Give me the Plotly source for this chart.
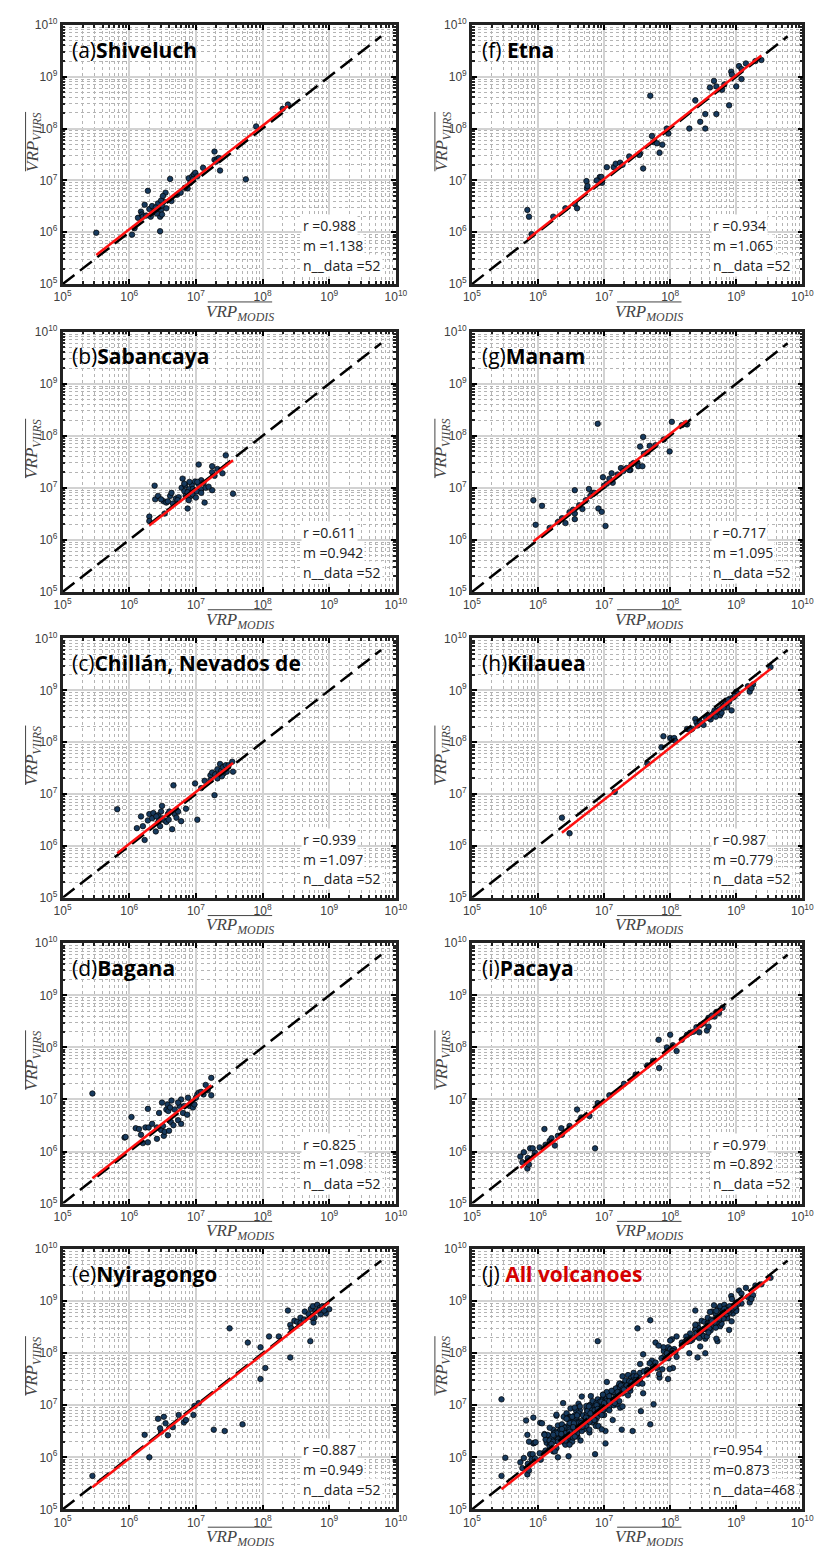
import plotly.graph_objects as go

# ---------------- data (MODIS, VIIRS) pairs ----------------
shiveluch = [(3.2e5, 9.8e5), (1.1e6, 9.0e5), (1.2e6, 1.2e6), (1.35e6, 1.9e6), (1.5e6, 2.5e6), (1.55e6, 2.2e6),
             (1.7e6, 3.4e6), (1.9e6, 6.3e6), (1.6e6, 2.0e6), (2.9e6, 1.05e6), (2.9e6, 2.0e6), (3.0e6, 2.7e6),
             (3.1e6, 3.3e6), (3.3e6, 3.9e6), (4.1e6, 1.07e7), (3.5e6, 5.8e6), (2.7e6, 3.6e6), (2.4e6, 2.6e6),
             (2.0e6, 2.8e6), (2.2e6, 3.2e6), (2.5e6, 3.0e6), (4.3e6, 4.0e6), (5.9e6, 5.8e6), (7.5e6, 7.0e6),
             (7.8e6, 1.1e7), (8.2e6, 9.0e6), (8.8e6, 1.2e7), (9.3e6, 1.3e7), (9.8e6, 1.4e7), (1.05e7, 1.2e7),
             (1.28e7, 1.75e7), (1.9e7, 3.6e7), (1.9e7, 2.5e7), (2.1e7, 2.6e7), (2.3e7, 1.55e7), (2.2e7, 2.7e7),
             (5.6e7, 1.05e7), (8.0e7, 1.1e8), (2.4e8, 2.9e8), (2.0e8, 2.4e8), (3.0e6, 4.1e6), (3.2e6, 5.0e6),
             (2.3e6, 2.4e6), (1.8e6, 2.1e6), (2.6e6, 2.3e6), (3.6e6, 2.9e6), (3.1e6, 2.2e6), (2.1e6, 2.0e6),
             (5.2e6, 5.3e6), (6.8e6, 7.2e6), (9.0e6, 1.05e7), (2.0e7, 2.3e7)]

sabancaya = [(2.0e6, 2.8e6), (2.0e6, 2.3e6), (2.4e6, 1.1e7), (2.45e6, 6.0e6), (2.7e6, 7.0e6), (3.3e6, 5.5e6),
             (3.4e6, 3.2e6), (3.6e6, 5.2e6), (3.8e6, 5.5e6), (4.1e6, 7.0e6), (4.3e6, 8.0e6), (4.5e6, 5.0e6),
             (5.0e6, 6.2e6), (5.5e6, 6.6e6), (6.1e6, 1.0e7), (6.3e6, 1.5e7), (6.7e6, 8.6e6), (7.0e6, 7.0e6),
             (6.9e6, 1.12e7), (7.5e6, 4.0e6), (7.9e6, 9.4e6), (8.4e6, 7.0e6), (8.7e6, 1.15e7), (8.9e6, 7.5e6),
             (9.7e6, 1.32e7), (1.0e7, 6.5e6), (1.1e7, 2.8e7), (1.1e7, 1.17e7), (1.2e7, 9.4e6), (1.2e7, 1.4e7),
             (1.3e7, 1.25e7), (1.35e7, 5.2e6), (1.4e7, 1.0e7), (1.75e7, 2.0e7), (1.75e7, 2.6e7), (1.75e7, 9.0e6),
             (2.1e7, 2.3e7), (2.5e7, 1.9e7), (2.8e7, 4.2e7), (3.6e7, 7.7e6), (9.0e6, 9.5e6), (1.03e7, 8.5e6),
             (8.0e6, 1.3e7), (6.7e6, 1.2e7), (7.5e6, 8.2e6), (1.2e7, 8.0e6), (1.55e7, 1.05e7), (1.9e7, 1.7e7),
             (5.3e6, 5.8e6), (3.0e6, 6.0e6), (7.8e6, 5.8e6), (1.05e7, 1.3e7)]

chillan = [(6.6e5, 5.1e6), (1.3e6, 2.2e6), (1.5e6, 3.7e6), (1.6e6, 2.4e6), (1.7e6, 1.3e6), (1.9e6, 3.1e6),
           (2.0e6, 4.1e6), (2.2e6, 3.4e6), (2.3e6, 4.3e6), (2.5e6, 1.9e6), (2.7e6, 2.8e6), (2.7e6, 3.9e6),
           (2.9e6, 2.4e6), (3.0e6, 4.6e6), (3.1e6, 5.9e6), (3.1e6, 3.4e6), (3.4e6, 3.1e6), (3.6e6, 2.9e6),
           (3.8e6, 4.1e6), (4.0e6, 4.6e6), (4.4e6, 2.1e6), (4.6e6, 1.47e7), (4.8e6, 4.1e6), (5.4e6, 4.6e6),
           (6.0e6, 3.0e6), (7.1e6, 5.2e6), (9.7e6, 1.6e7), (1.05e7, 3.2e6), (1.35e7, 1.8e7), (1.2e7, 1.3e7),
           (1.65e7, 2.3e7), (1.75e7, 2.6e7), (1.95e7, 2.4e7), (2.1e7, 3.0e7), (2.2e7, 2.3e7), (2.3e7, 3.8e7),
           (2.4e7, 2.8e7), (2.55e7, 3.3e7), (2.6e7, 2.5e7), (2.8e7, 3.6e7), (2.9e7, 2.7e7), (3.1e7, 3.6e7),
           (3.6e7, 2.7e7), (3.5e7, 4.2e7), (1.9e7, 9.5e6), (1.65e7, 1.85e7), (2.1e7, 2.0e7), (2.45e7, 2.2e7),
           (3.9e6, 3.2e6), (2.8e6, 3.1e6), (2.55e6, 3.7e6), (5.1e6, 3.5e6)]

bagana = [(2.8e5, 1.3e7), (8.5e5, 1.85e6), (8.8e5, 1.9e6), (1.08e6, 4.6e6), (1.25e6, 2.8e6), (1.4e6, 2.7e6),
          (1.5e6, 2.1e6), (1.6e6, 1.45e6), (1.75e6, 2.9e6), (1.9e6, 6.6e6), (1.9e6, 1.5e6), (1.95e6, 2.9e6),
          (2.6e6, 1.75e6), (2.8e6, 5.5e6), (3.0e6, 2.6e6), (3.1e6, 8.7e6), (3.2e6, 3.1e6), (3.3e6, 2.0e6),
          (3.4e6, 2.4e6), (3.6e6, 6.4e6), (3.75e6, 8.0e6), (3.85e6, 6.0e6), (3.95e6, 2.5e6), (4.1e6, 7.0e6),
          (4.2e6, 3.7e6), (4.6e6, 3.2e6), (4.8e6, 6.4e6), (5.4e6, 4.0e6), (5.7e6, 7.5e6), (6.0e6, 1.0e7),
          (6.0e6, 3.4e6), (6.4e6, 5.5e6), (6.7e6, 7.5e6), (7.4e6, 5.1e6), (7.6e6, 1.08e7), (8.0e6, 7.5e6),
          (8.5e6, 8.7e6), (9.0e6, 7.0e6), (9.5e6, 8.0e6), (1.0e7, 1.08e7), (1.05e7, 1.25e7), (1.1e7, 1.35e7),
          (1.2e7, 1.4e7), (1.3e7, 1.25e7), (1.4e7, 1.9e7), (1.5e7, 1.5e7), (1.7e7, 2.6e7), (1.7e7, 1.2e7),
          (5.4e6, 8.7e6), (4.3e6, 9.5e6), (2.6e6, 2.9e6), (2.2e6, 3.4e6)]

nyiragongo = [(2.8e5, 4.4e5), (1.7e6, 2.7e6), (2.0e6, 1.0e6), (2.7e6, 5.5e6), (3.0e6, 3.1e6), (3.3e6, 6.0e6),
              (3.5e6, 4.5e6), (3.8e6, 2.65e6), (4.5e6, 3.8e6), (5.5e6, 6.5e6), (6.6e6, 4.7e6), (7.1e6, 5.2e6),
              (9.2e6, 6.5e6), (9.5e6, 9.7e6), (1.1e7, 1.1e7), (1.85e7, 3.4e6), (2.7e7, 3.2e6), (3.2e7, 3.0e8),
              (5.0e7, 4.3e6), (6.0e7, 1.6e8), (9.3e7, 1.3e8), (9.3e7, 3.2e7), (1.1e8, 5.2e7), (1.25e8, 2.1e8),
              (1.75e8, 2.1e8), (2.4e8, 6.6e8), (2.6e8, 8.3e7), (2.6e8, 3.5e8), (3.0e8, 4.2e8), (3.3e8, 4.0e8),
              (3.7e8, 4.8e8), (4.3e8, 6.3e8), (5.2e8, 1.7e8), (5.3e8, 7.1e8), (5.7e8, 8.0e8), (5.8e8, 3.9e8),
              (6.0e8, 4.8e8), (6.6e8, 8.5e8), (7.2e8, 7.4e8), (7.9e8, 8.0e8), (8.9e8, 5.8e8), (1.0e9, 7.0e8),
              (3.7e8, 3.8e8), (2.7e8, 3.0e8), (6.2e8, 6.4e8), (4.9e8, 5.6e8), (7.4e8, 5.6e8), (8.4e8, 6.6e8),
              (5.5e8, 4.8e8), (4.2e8, 4.4e8), (7.0e8, 6.7e8), (2.9e6, 3.6e6)]

etna = [(6.9e5, 2.7e6), (7.3e5, 2.0e6), (8.0e5, 9.2e5), (1.7e6, 2.0e6), (2.6e6, 2.9e6), (3.6e6, 3.5e6),
        (3.9e6, 2.9e6), (5.4e6, 9.7e6), (5.5e6, 7.0e6), (5.6e6, 7.8e6), (8.6e6, 1.16e7), (9.1e6, 1.17e7),
        (9.3e6, 9.0e6), (1.1e7, 1.8e7), (1.4e7, 1.8e7), (1.5e7, 2.1e7), (1.75e7, 2.2e7), (1.9e7, 2.0e7),
        (2.4e7, 2.9e7), (3.5e7, 3.3e7), (3.9e7, 1.7e7), (5.0e7, 4.3e8), (5.3e7, 7.2e7), (5.6e7, 5.5e7),
        (6.3e7, 5.2e7), (6.9e7, 3.4e7), (7.6e7, 4.9e7), (8.9e7, 1.0e8), (9.4e7, 8.0e7), (1.95e8, 1.0e8),
        (2.4e8, 3.5e8), (2.85e8, 1.35e8), (3.4e8, 1.9e8), (3.4e8, 1.0e8), (4.0e8, 6.2e8), (4.6e8, 8.3e8),
        (5.0e8, 6.5e8), (5.0e8, 1.9e8), (6.1e8, 5.6e8), (6.6e8, 7.1e8), (7.8e8, 2.8e8), (8.4e8, 1.25e9),
        (8.6e8, 1.1e9), (1.0e9, 6.5e8), (1.1e9, 1.6e9), (1.2e9, 1.4e9), (1.2e9, 9.0e8), (1.4e9, 1.8e9),
        (1.95e9, 2.0e9), (2.4e9, 2.1e9), (7.7e6, 1.0e7), (3.4e7, 3.1e7)]

manam = [(8.5e5, 5.8e6), (9.2e5, 1.95e6), (1.15e6, 4.5e6), (2.3e6, 2.6e6), (2.6e6, 2.1e6), (3.6e6, 3.2e6),
         (3.6e6, 2.5e6), (3.6e6, 9.0e6), (4.7e6, 3.9e6), (5.9e6, 9.5e6), (6.6e6, 8.0e6), (8.0e6, 1.7e8),
         (8.2e6, 4.0e6), (9.2e6, 3.45e6), (9.6e6, 1.6e7), (1.05e7, 1.85e6), (1.3e7, 1.9e7), (1.35e7, 1.25e7),
         (1.8e7, 2.4e7), (1.95e7, 2.1e7), (2.5e7, 2.2e7), (3.2e7, 3.0e7), (3.3e7, 2.6e7), (3.5e7, 6.2e7),
         (3.8e7, 2.6e7), (3.9e7, 9.5e7), (4.9e7, 6.4e7), (9.8e7, 5.0e7), (1.06e8, 1.85e8), (1.8e8, 1.65e8),
         (1.5e6, 1.7e6), (2.0e6, 2.2e6), (4.2e6, 4.6e6), (5.3e6, 5.8e6), (7.2e6, 8.0e6), (1.1e7, 1.2e7),
         (1.6e7, 1.8e7), (2.2e7, 2.4e7), (2.8e7, 3.0e7), (4.5e7, 4.8e7), (6.0e7, 6.6e7), (8.0e7, 8.5e7),
         (1.5e8, 1.6e8), (3.0e6, 3.4e6), (1.2e7, 1.5e7), (2.6e7, 2.8e7), (6.2e6, 7.0e6), (4.0e7, 4.5e7),
         (1.0e7, 1.1e7), (3.4e6, 3.8e6), (1.7e8, 1.7e8), (2.4e7, 2.2e7)]

kilauea = [(2.3e6, 3.5e6), (3.0e6, 1.75e6), (1.45e7, 1.1e7), (4.5e7, 3.9e7), (7.4e7, 8.0e7), (7.9e7, 1.3e8),
           (1.0e8, 1.2e8), (1.08e8, 1.13e8), (1.15e8, 1.2e8), (1.8e8, 1.8e8), (2.15e8, 1.8e8), (2.4e8, 2.8e8),
           (2.5e8, 2.4e8), (2.6e8, 2.1e8), (3.0e8, 2.3e8), (3.2e8, 2.15e8), (3.8e8, 3.2e8), (4.1e8, 2.75e8),
           (4.6e8, 3.7e8), (4.7e8, 4.1e8), (5.1e8, 3.45e8), (5.3e8, 3.7e8), (5.7e8, 3.3e8), (6.0e8, 3.7e8),
           (6.2e8, 4.9e8), (6.7e8, 5.3e8), (7.3e8, 4.7e8), (7.8e8, 6.0e8), (8.0e8, 6.9e8), (8.5e8, 4.1e8),
           (1.0e9, 9.4e8), (1.5e9, 1.2e9), (1.6e9, 9.4e8), (1.8e9, 1.3e9), (3.3e9, 2.8e9), (3.5e8, 2.9e8),
           (4.3e8, 3.4e8), (5.5e8, 4.3e8), (6.5e8, 5.0e8), (7.0e8, 5.6e8), (9.0e8, 7.3e8), (1.05e9, 8.7e8),
           (1.2e8, 1.05e8), (2.8e8, 2.5e8), (3.9e8, 3.0e8), (5.0e8, 3.9e8), (6.4e8, 4.6e8), (1.7e9, 1.1e9),
           (2.0e8, 1.7e8), (4.9e8, 3.1e8), (7.5e8, 6.5e8), (9.5e8, 7.8e8)]

pacaya = [(5.4e5, 8.0e5), (6.1e5, 9.7e5), (6.9e5, 4.7e5), (7.3e5, 5.6e5), (7.6e5, 1.15e6), (8.3e5, 1.15e6),
          (1.06e6, 1.2e6), (1.25e6, 2.7e6), (1.5e6, 1.6e6), (1.8e6, 1.3e6), (2.25e6, 2.8e6), (2.3e6, 2.1e6),
          (3.9e6, 6.4e6), (6.0e6, 4.8e6), (7.3e6, 1.15e6), (6.7e7, 1.4e8), (6.8e7, 4.0e7), (8.9e7, 1.0e8),
          (1.0e8, 1.75e8), (1.25e8, 8.5e7), (1.8e8, 1.75e8), (2.25e8, 2.0e8), (2.5e8, 2.45e8), (2.75e8, 1.95e8),
          (3.2e8, 2.9e8), (3.6e8, 2.1e8), (3.8e8, 2.5e8), (3.8e8, 3.7e8), (4.2e8, 3.9e8), (4.7e8, 3.9e8),
          (5.0e8, 4.8e8), (6.2e8, 5.8e8), (5.8e5, 6.2e5), (9.0e5, 9.5e5), (1.3e6, 1.35e6), (2.0e6, 2.0e6),
          (3.0e6, 3.1e6), (4.5e6, 4.5e6), (8.0e6, 8.5e6), (1.2e7, 1.2e7), (2.0e7, 2.0e7), (3.0e7, 3.0e7),
          (4.5e7, 4.5e7), (5.5e7, 5.5e7), (1.5e8, 1.4e8), (2.0e8, 1.9e8), (2.9e8, 2.7e8), (4.3e8, 4.1e8),
          (5.5e8, 4.6e8), (1.6e6, 1.8e6), (7.0e5, 7.5e5), (1.1e8, 1.1e8)]

all_volcanoes = shiveluch + sabancaya + chillan + bagana + nyiragongo + etna + manam + kilauea + pacaya

labels = ["(a)", "(b)", "(c)", "(d)", "(e)", "(f) ", "(g)", "(h)", "(i)", "(j) "]
names = ["Shiveluch", "Sabancaya", "Chillán, Nevados de", "Bagana", "Nyiragongo",
         "Etna", "Manam", "Kilauea", "Pacaya", "All volcanoes"]
datasets = [shiveluch, sabancaya, chillan, bagana, nyiragongo, etna, manam, kilauea, pacaya, all_volcanoes]
r_vals = [0.988, 0.611, 0.939, 0.825, 0.887, 0.934, 0.717, 0.987, 0.979, 0.954]
m_vals = [1.138, 0.942, 1.097, 1.098, 0.949, 1.065, 1.095, 0.779, 0.892, 0.873]
n_vals = [52, 52, 52, 52, 52, 52, 52, 52, 52, 468]
identity_span = [1e5, 6e9]

# ---------------- layout ----------------
W, H = 827, 1553
col_px = [(55, 397), (475, 814)]
row_px = [(16, 278), (326, 589), (636, 898), (944, 1207), (1253, 1516)]

major = [10 ** k for k in range(5, 11)]
major_text = [f"10<sup>{k}</sup>" for k in range(5, 11)]
minor = [m * 10 ** k for k in range(5, 10) for m in range(2, 10)]

fig = go.Figure()
annotations = []
shapes = []


def px_x(v):
    return v / W


def px_y(v):
    return 1 - v / H


for i in range(10):
    col, row = i // 5, i % 5
    k = i + 1
    xa, ya = f"x{k}", f"y{k}"
    x0, x1 = col_px[col]
    y0, y1 = row_px[row]
    pts = datasets[i]
    xs = [p[0] for p in pts]
    ys = [p[1] for p in pts]

    fig.add_trace(go.Scatter(x=xs, y=ys, mode="markers", xaxis=xa, yaxis=ya, showlegend=False,
                             marker=dict(size=5.5, color="#173a5e", line=dict(color="black", width=0.7))))
    fig.add_trace(go.Scatter(x=identity_span, y=identity_span, mode="lines", xaxis=xa, yaxis=ya,
                             showlegend=False, line=dict(color="black", width=2.5, dash="15px,7px")))
    xmin, xmax = min(xs), max(xs)
    fig.add_trace(go.Scatter(x=[xmin, xmax], y=[m_vals[i] * xmin, m_vals[i] * xmax], mode="lines",
                             xaxis=xa, yaxis=ya, showlegend=False, line=dict(color="#ff1010", width=2.5)))

    ax = dict(type="log", range=[5, 10], tickvals=major, ticktext=major_text, ticks="inside", ticklen=5,
              tickwidth=1.5, tickcolor="black", showline=True, linecolor="#222", linewidth=2.5,
              mirror="allticks", showgrid=True, gridcolor="#d2d2d2", gridwidth=1.5, zeroline=False,
              tickfont=dict(family="Liberation Sans", size=12, color="#404040"),
              minor=dict(tickvals=minor, ticks="inside", ticklen=3, tickcolor="#222", showgrid=True,
                         gridcolor="#b4b4b4", griddash="dot", gridwidth=1))
    fig.update_layout(**{
        f"xaxis{k}": dict(ax, domain=[px_x(x0), px_x(x1)], anchor=ya),
        f"yaxis{k}": dict(ax, domain=[px_y(y1), px_y(y0)], anchor=xa),
    })

    # panel title
    if i == 9:
        ttl = f"{labels[i]}<span style='color:#d40000'><b>{names[i]}</b></span>"
        stats = [f"r={r_vals[i]:.3f}", f"m={m_vals[i]:.3f}", f"n__data={n_vals[i]}"]
    else:
        ttl = f"{labels[i]}<b>{names[i]}</b>"
        stats = [f"r ={r_vals[i]:.3f}", f"m ={m_vals[i]:.3f}", f"n__data ={n_vals[i]}"]
    annotations.append(dict(text=ttl, x=px_x(x0 + 8), y=px_y(y0 + 25), xref="paper", yref="paper",
                            xanchor="left", yanchor="middle", showarrow=False,
                            font=dict(family="Open Sans", size=21, color="black")))
    for j, s in enumerate(stats):
        annotations.append(dict(text=s, x=px_x(x0 + 245), y=px_y(y0 + 203 + 20 * j), xref="paper",
                                yref="paper", xanchor="left", yanchor="middle", showarrow=False,
                                bgcolor="white", borderpad=1,
                                font=dict(family="Open Sans", size=14, color="#222")))

    # axis titles with overlines
    cx = x0 + 182
    cy_x = y1 + 29
    annotations.append(dict(text="<i>VRP<sub>MODIS</sub></i>", x=px_x(cx), y=px_y(cy_x), xref="paper",
                            yref="paper", xanchor="center", yanchor="middle", showarrow=False,
                            font=dict(family="Liberation Serif", size=17, color="#444")))
    shapes.append(dict(type="line", xref="paper", yref="paper", x0=px_x(cx - 33), x1=px_x(cx + 33),
                       y0=px_y(y1 + 18), y1=px_y(y1 + 18), line=dict(color="#444", width=1)))
    ty_x = x0 - 30
    ty_y = y0 + 118
    annotations.append(dict(text="<i>VRP<sub>VIIRS</sub></i>", x=px_x(ty_x), y=px_y(ty_y), xref="paper",
                            yref="paper", xanchor="center", yanchor="middle", showarrow=False, textangle=-90,
                            font=dict(family="Liberation Serif", size=17, color="#444")))
    shapes.append(dict(type="line", xref="paper", yref="paper", x0=px_x(ty_x - 8), x1=px_x(ty_x - 8),
                       y0=px_y(ty_y - 30), y1=px_y(ty_y + 30), line=dict(color="#444", width=1)))

fig.update_layout(width=W, height=H, margin=dict(l=0, r=0, t=0, b=0), paper_bgcolor="white",
                  plot_bgcolor="white", annotations=annotations, shapes=shapes, showlegend=False)
fig.write_html("out.html")
